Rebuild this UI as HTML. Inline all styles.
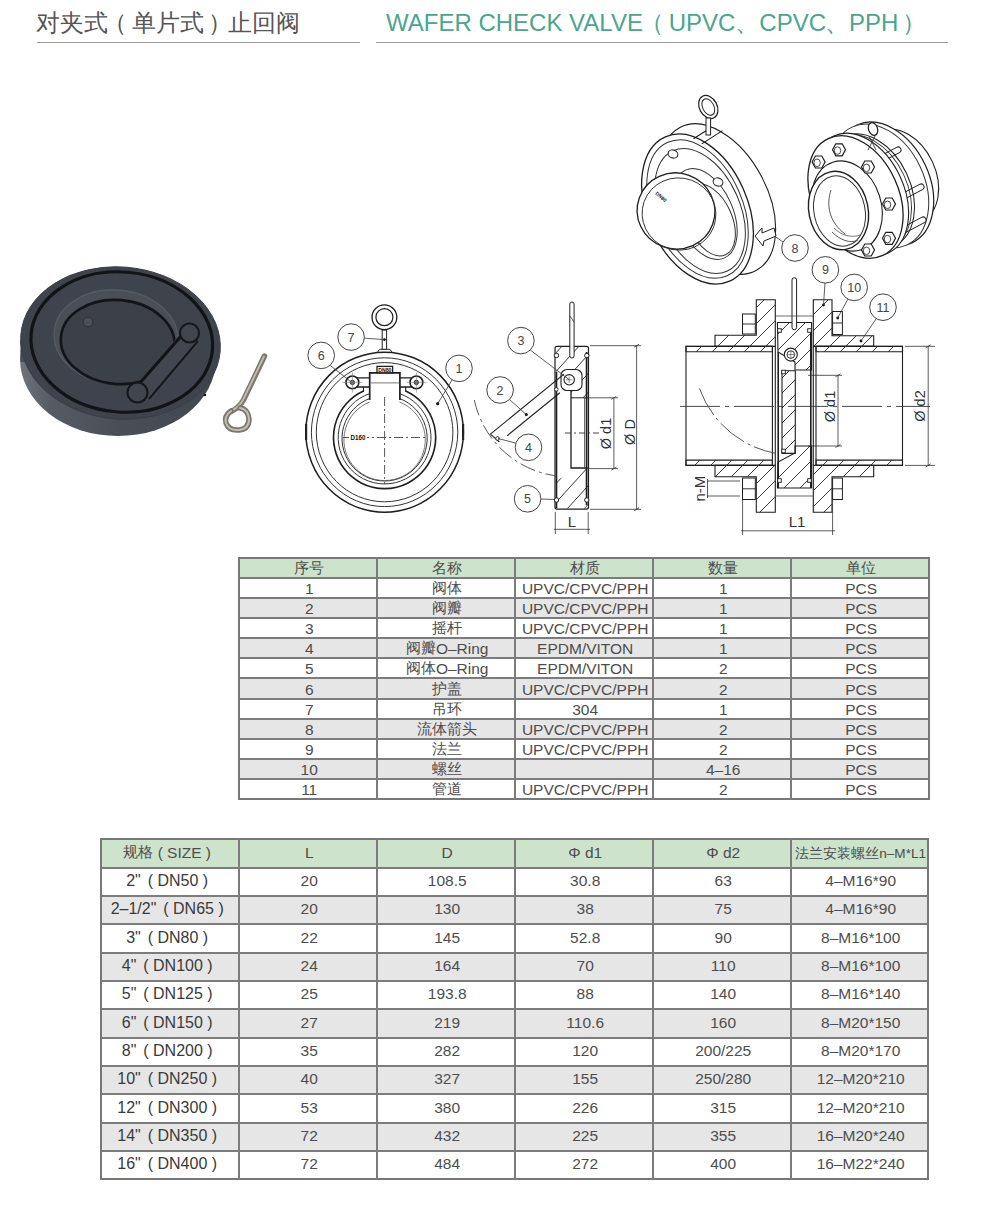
<!DOCTYPE html>
<html><head><meta charset="utf-8"><style>
*{margin:0;padding:0;box-sizing:border-box}
html,body{width:984px;height:1210px;background:#fff;overflow:hidden;position:relative;font-family:"Liberation Sans",sans-serif}
.a{position:absolute;white-space:nowrap}
.t1{color:#555;font-size:24px;line-height:24px}
.t2{color:#4aa68f;font-size:24px;line-height:24px}
.k{font-size:14.5px;position:relative;top:-0.6px}
.c{position:absolute;text-align:center;white-space:nowrap;color:#4d4d4d}
</style></head><body>
<svg class="a" style="left:0;top:0" width="984" height="1210" viewBox="0 0 984 1210"><ellipse cx="384.6" cy="432.2" rx="78.8" ry="80" fill="none" stroke="#1e1e1e" stroke-width="1.5"/><ellipse cx="384.6" cy="432.2" rx="73.2" ry="74.4" fill="none" stroke="#333" stroke-width="1"/><ellipse cx="384.6" cy="432.2" rx="68.3" ry="69.6" fill="none" stroke="#333" stroke-width="1"/><rect x="305" y="424" width="2.2" height="16" fill="#222"/><rect x="462" y="424" width="2.2" height="16" fill="#222"/><path d="M 363.5 391 A 51.1 51.1 0 1 0 405.7 391" fill="none" stroke="#1e1e1e" stroke-width="1.6"/><path d="M 369.7 393.6 A 46.4 46.4 0 1 0 399.5 393.6" fill="none" stroke="#333" stroke-width="1"/><path d="M 369.7 398.5 A 42.6 42.6 0 1 0 399.5 398.5" fill="none" stroke="#333" stroke-width="1"/><path d="M 369.7 402 A 40.7 40.7 0 1 0 399.5 402" fill="none" stroke="#555" stroke-width="0.8"/><path d="M 369.7 400 L 369.7 372.8 L 399.9 372.8 L 399.9 400" fill="none" stroke="#1e1e1e" stroke-width="1.7"/><rect x="377" y="366.4" width="15.6" height="6.4" fill="#fff" stroke="#1e1e1e" stroke-width="1.3"/><text x="384.8" y="371.8" font-size="6" text-anchor="middle" fill="#111" font-family="Liberation Sans" font-weight="bold" textLength="13" lengthAdjust="spacingAndGlyphs">DN80</text><line x1="370.5" y1="382.9" x2="399.0" y2="382.9" stroke="#777" stroke-width="1" /><path d="M 357 377.8 L 369.7 377.8 M 357 387 L 369.7 387" stroke="#1e1e1e" stroke-width="1.3" fill="none"/><path d="M 412 377.8 L 399.9 377.8 M 412 387 L 399.9 387" stroke="#1e1e1e" stroke-width="1.3" fill="none"/><path d="M 363.5 387 L 363.5 392 M 405.7 387 L 405.7 392" stroke="#1e1e1e" stroke-width="1.1" fill="none"/><circle cx="352.4" cy="382.4" r="6.4" fill="#fff" stroke="#1e1e1e" stroke-width="1.6"/><circle cx="352.4" cy="382.4" r="2.2" fill="#777" stroke="#1e1e1e" stroke-width="0.8"/><line x1="342.4" y1="382.4" x2="362.4" y2="382.4" stroke="#777" stroke-width="0.6" /><line x1="352.4" y1="372.5" x2="352.4" y2="392.5" stroke="#777" stroke-width="0.6" /><circle cx="416.4" cy="382.4" r="6.4" fill="#fff" stroke="#1e1e1e" stroke-width="1.6"/><circle cx="416.4" cy="382.4" r="2.2" fill="#777" stroke="#1e1e1e" stroke-width="0.8"/><line x1="406.4" y1="382.4" x2="426.4" y2="382.4" stroke="#777" stroke-width="0.6" /><line x1="416.4" y1="372.5" x2="416.4" y2="392.5" stroke="#777" stroke-width="0.6" /><path d="M 384.6 397 L 384.6 484" stroke="#444" stroke-width="0.9" stroke-dasharray="9 3 2 3" fill="none"/><path d="M 343 437.5 L 427 437.5" stroke="#444" stroke-width="0.9" stroke-dasharray="9 3 2 3" fill="none"/><rect x="349" y="434" width="18" height="7" fill="#fff"/><text x="358" y="439.8" font-size="6.5" text-anchor="middle" fill="#111" font-family="Liberation Sans" font-weight="bold" textLength="15" lengthAdjust="spacingAndGlyphs">D160</text><path d="M 377.5 352.3 L 379.5 349.3 L 390 349.3 L 392 352.3" fill="none" stroke="#333" stroke-width="1"/><rect x="382.2" y="330" width="4.4" height="19.3" fill="#fff" stroke="#1e1e1e" stroke-width="1"/><circle cx="384.4" cy="317.2" r="12.4" fill="none" stroke="#1e1e1e" stroke-width="1.3"/><circle cx="384.4" cy="317.2" r="8.5" fill="none" stroke="#1e1e1e" stroke-width="1.2"/><circle cx="384.4" cy="339.6" r="1.4" fill="#111"/><line x1="364.6" y1="338.2" x2="384.2" y2="339.6" stroke="#333" stroke-width="0.8" /><circle cx="351.1" cy="337.1" r="13.3" fill="#fff" stroke="#444" stroke-width="1"/><text x="351.1" y="341.6" font-size="12.5" text-anchor="middle" fill="#444" font-family="Liberation Sans">7</text><line x1="329.6" y1="365.0" x2="350.0" y2="381.0" stroke="#333" stroke-width="0.8" /><circle cx="321.2" cy="355.4" r="13.3" fill="#fff" stroke="#444" stroke-width="1"/><text x="321.2" y="359.9" font-size="12.5" text-anchor="middle" fill="#444" font-family="Liberation Sans">6</text><circle cx="437.7" cy="403.7" r="1.6" fill="#111"/><line x1="452.0" y1="380.0" x2="437.7" y2="403.7" stroke="#333" stroke-width="0.8" /><circle cx="459" cy="368.4" r="13.3" fill="#fff" stroke="#444" stroke-width="1"/><text x="459" y="372.9" font-size="12.5" text-anchor="middle" fill="#444" font-family="Liberation Sans">1</text><path d="M 474.3 400 A 97 97 0 0 0 572.6 476.7" fill="none" stroke="#444" stroke-width="0.9" stroke-dasharray="16 4 3 4"/><rect x="555" y="346.3" width="33.5" height="162.8" rx="2" fill="#fff" stroke="#1e1e1e" stroke-width="1.2"/><clipPath id="cUp"><path d="M 555.5 347 L 588 347 L 588 398 L 571 398 L 571 391 L 556 372 Z"/></clipPath><clipPath id="cLo"><path d="M 556 508.6 L 588 508.6 L 588 468 L 571 468 L 571 474 L 556 480 Z"/></clipPath><path clip-path="url(#cUp)" d="M 370 520 L 570 300 M 387 520 L 587 300 M 404 520 L 604 300 M 421 520 L 621 300 M 438 520 L 638 300 M 455 520 L 655 300 M 472 520 L 672 300 M 489 520 L 689 300 M 506 520 L 706 300 M 523 520 L 723 300 M 540 520 L 740 300 M 557 520 L 757 300 M 574 520 L 774 300 M 591 520 L 791 300 M 608 520 L 808 300 M 625 520 L 825 300 M 642 520 L 842 300 M 659 520 L 859 300 M 676 520 L 876 300 M 693 520 L 893 300 M 710 520 L 910 300 M 727 520 L 927 300 M 744 520 L 944 300 M 761 520 L 961 300 M 778 520 L 978 300 M 795 520 L 995 300 M 812 520 L 1012 300 M 829 520 L 1029 300 M 846 520 L 1046 300 M 863 520 L 1063 300" stroke="#222" stroke-width="0.9" fill="none"/><path clip-path="url(#cLo)" d="M 370 520 L 570 300 M 387 520 L 587 300 M 404 520 L 604 300 M 421 520 L 621 300 M 438 520 L 638 300 M 455 520 L 655 300 M 472 520 L 672 300 M 489 520 L 689 300 M 506 520 L 706 300 M 523 520 L 723 300 M 540 520 L 740 300 M 557 520 L 757 300 M 574 520 L 774 300 M 591 520 L 791 300 M 608 520 L 808 300 M 625 520 L 825 300 M 642 520 L 842 300 M 659 520 L 859 300 M 676 520 L 876 300 M 693 520 L 893 300 M 710 520 L 910 300 M 727 520 L 927 300 M 744 520 L 944 300 M 761 520 L 961 300 M 778 520 L 978 300 M 795 520 L 995 300 M 812 520 L 1012 300 M 829 520 L 1029 300 M 846 520 L 1046 300 M 863 520 L 1063 300" stroke="#222" stroke-width="0.9" fill="none"/><path d="M 571 391 L 571 468 L 587.5 468" fill="none" stroke="#1e1e1e" stroke-width="1.3"/><line x1="571.0" y1="397.8" x2="588.0" y2="397.8" stroke="#1e1e1e" stroke-width="1" /><line x1="556.5" y1="372.0" x2="556.5" y2="508.0" stroke="#1e1e1e" stroke-width="1.6" /><line x1="586.6" y1="352.0" x2="586.6" y2="505.0" stroke="#1e1e1e" stroke-width="1.8" /><line x1="584.5" y1="398.0" x2="584.5" y2="468.0" stroke="#444" stroke-width="0.8" /><circle cx="556.5" cy="355.5" r="2.2" fill="#fff" stroke="#1e1e1e" stroke-width="1"/><circle cx="586.8" cy="355.5" r="2.2" fill="#fff" stroke="#1e1e1e" stroke-width="1"/><circle cx="556.5" cy="500" r="2.2" fill="#fff" stroke="#1e1e1e" stroke-width="1"/><circle cx="586.8" cy="500" r="2.2" fill="#fff" stroke="#1e1e1e" stroke-width="1"/><rect x="569.8" y="302" width="4.3" height="56" rx="2.1" fill="#fff" stroke="#1e1e1e" stroke-width="1"/><line x1="570.0" y1="316.0" x2="574.0" y2="322.0" stroke="#333" stroke-width="0.8" /><rect x="561" y="369.5" width="21" height="21" rx="6" fill="#fff" stroke="#1e1e1e" stroke-width="1.1"/><path d="M 490.4 434.1 L 564.0 374.1" stroke="#1e1e1e" stroke-width="1.1" fill="none"/><path d="M 507.2 435.7 L 559.9 392.7" stroke="#1e1e1e" stroke-width="1.1" fill="none"/><path d="M 490.4 434.1 L 499.4 442.0" stroke="#1e1e1e" stroke-width="1.1" fill="none"/><circle cx="569.2" cy="379.8" r="5.2" fill="#fff" stroke="#1e1e1e" stroke-width="1.1"/><line x1="566.0" y1="379.8" x2="572.4" y2="379.8" stroke="#444" stroke-width="0.6" /><line x1="569.2" y1="376.6" x2="569.2" y2="383.0" stroke="#444" stroke-width="0.6" /><circle cx="497.5" cy="438.5" r="1.8" fill="#fff" stroke="#1e1e1e" stroke-width="0.9"/><circle cx="556.3" cy="389.4" r="1.8" fill="#fff" stroke="#1e1e1e" stroke-width="0.9"/><path d="M 565 433 L 599 433" stroke="#333" stroke-width="0.9" stroke-dasharray="6 3 2 3" fill="none"/><circle cx="526.3" cy="414.6" r="1.5" fill="#111"/><line x1="509.5" y1="399.5" x2="526.3" y2="414.6" stroke="#333" stroke-width="0.8" /><circle cx="500.1" cy="390" r="13.3" fill="#fff" stroke="#444" stroke-width="1"/><text x="500.1" y="394.5" font-size="12.5" text-anchor="middle" fill="#444" font-family="Liberation Sans">2</text><line x1="530.3" y1="350.0" x2="569.0" y2="379.5" stroke="#333" stroke-width="0.8" /><circle cx="520.9" cy="340.6" r="13.3" fill="#fff" stroke="#444" stroke-width="1"/><text x="520.9" y="345.1" font-size="12.5" text-anchor="middle" fill="#444" font-family="Liberation Sans">3</text><line x1="515.5" y1="443.0" x2="498.0" y2="438.5" stroke="#333" stroke-width="0.8" /><circle cx="528.5" cy="447.3" r="13.3" fill="#fff" stroke="#444" stroke-width="1"/><text x="528.5" y="451.8" font-size="12.5" text-anchor="middle" fill="#444" font-family="Liberation Sans">4</text><line x1="541.0" y1="499.0" x2="554.5" y2="499.5" stroke="#333" stroke-width="0.8" /><circle cx="527.6" cy="498.8" r="13.3" fill="#fff" stroke="#444" stroke-width="1"/><text x="527.6" y="503.3" font-size="12.5" text-anchor="middle" fill="#444" font-family="Liberation Sans">5</text><line x1="590.0" y1="345.7" x2="641.0" y2="345.7" stroke="#333" stroke-width="0.8" /><line x1="590.0" y1="509.3" x2="641.0" y2="509.3" stroke="#333" stroke-width="0.8" /><line x1="636.6" y1="345.7" x2="636.6" y2="509.3" stroke="#333" stroke-width="0.8" /><line x1="588.0" y1="397.8" x2="618.0" y2="397.8" stroke="#333" stroke-width="0.8" /><line x1="588.0" y1="468.6" x2="618.0" y2="468.6" stroke="#333" stroke-width="0.8" /><line x1="613.9" y1="397.8" x2="613.9" y2="468.6" stroke="#333" stroke-width="0.8" /><line x1="634.1" y1="347.2" x2="639.1" y2="344.2" stroke="#333" stroke-width="0.8" /><line x1="634.1" y1="510.8" x2="639.1" y2="507.8" stroke="#333" stroke-width="0.8" /><line x1="611.4" y1="399.3" x2="616.4" y2="396.3" stroke="#333" stroke-width="0.8" /><line x1="611.4" y1="470.1" x2="616.4" y2="467.1" stroke="#333" stroke-width="0.8" /><line x1="555.3" y1="512.0" x2="555.3" y2="534.0" stroke="#333" stroke-width="0.8" /><line x1="588.2" y1="512.0" x2="588.2" y2="534.0" stroke="#333" stroke-width="0.8" /><line x1="554.0" y1="529.3" x2="590.0" y2="529.3" stroke="#333" stroke-width="0.8" /><text x="572" y="527" font-size="15" text-anchor="middle" fill="#333" font-family="Liberation Sans">L</text><text transform="translate(610.5 433.5) rotate(-90)" font-size="14.5" text-anchor="middle" fill="#333" font-family="Liberation Sans">Ø d1</text><text transform="translate(635 432) rotate(-90)" font-size="14.5" text-anchor="middle" fill="#333" font-family="Liberation Sans">Ø D</text><rect x="686" y="346.4" width="86.39999999999998" height="119" fill="#fff" stroke="#1e1e1e" stroke-width="1.1"/><rect x="816" y="346.4" width="86.5" height="119" fill="#fff" stroke="#1e1e1e" stroke-width="1.1"/><clipPath id="pA1"><path d="M 686 346.4 L 772.4 346.4 L 772.4 351.7 L 686 351.7 Z"/></clipPath><path clip-path="url(#pA1)" d="M 120 560 L 420 260 M 136 560 L 436 260 M 152 560 L 452 260 M 168 560 L 468 260 M 184 560 L 484 260 M 200 560 L 500 260 M 216 560 L 516 260 M 232 560 L 532 260 M 248 560 L 548 260 M 264 560 L 564 260 M 280 560 L 580 260 M 296 560 L 596 260 M 312 560 L 612 260 M 328 560 L 628 260 M 344 560 L 644 260 M 360 560 L 660 260 M 376 560 L 676 260 M 392 560 L 692 260 M 408 560 L 708 260 M 424 560 L 724 260 M 440 560 L 740 260 M 456 560 L 756 260 M 472 560 L 772 260 M 488 560 L 788 260 M 504 560 L 804 260 M 520 560 L 820 260 M 536 560 L 836 260 M 552 560 L 852 260 M 568 560 L 868 260 M 584 560 L 884 260 M 600 560 L 900 260 M 616 560 L 916 260 M 632 560 L 932 260 M 648 560 L 948 260 M 664 560 L 964 260 M 680 560 L 980 260 M 696 560 L 996 260 M 712 560 L 1012 260 M 728 560 L 1028 260 M 744 560 L 1044 260 M 760 560 L 1060 260 M 776 560 L 1076 260 M 792 560 L 1092 260 M 808 560 L 1108 260 M 824 560 L 1124 260 M 840 560 L 1140 260 M 856 560 L 1156 260 M 872 560 L 1172 260 M 888 560 L 1188 260 M 904 560 L 1204 260 M 920 560 L 1220 260 M 936 560 L 1236 260 M 952 560 L 1252 260 M 968 560 L 1268 260 M 984 560 L 1284 260 M 1000 560 L 1300 260 M 1016 560 L 1316 260 M 1032 560 L 1332 260 M 1048 560 L 1348 260 M 1064 560 L 1364 260 M 1080 560 L 1380 260 M 1096 560 L 1396 260 M 1112 560 L 1412 260 M 1128 560 L 1428 260 M 1144 560 L 1444 260 M 1160 560 L 1460 260 M 1176 560 L 1476 260 M 1192 560 L 1492 260 M 1208 560 L 1508 260 M 1224 560 L 1524 260" stroke="#222" stroke-width="0.9" fill="none"/><path d="M 686 346.4 L 772.4 346.4 L 772.4 351.7 L 686 351.7 Z" fill="none" stroke="#1e1e1e" stroke-width="1.1"/><clipPath id="pA2"><path d="M 686 460.1 L 772.4 460.1 L 772.4 465.4 L 686 465.4 Z"/></clipPath><path clip-path="url(#pA2)" d="M 120 560 L 420 260 M 136 560 L 436 260 M 152 560 L 452 260 M 168 560 L 468 260 M 184 560 L 484 260 M 200 560 L 500 260 M 216 560 L 516 260 M 232 560 L 532 260 M 248 560 L 548 260 M 264 560 L 564 260 M 280 560 L 580 260 M 296 560 L 596 260 M 312 560 L 612 260 M 328 560 L 628 260 M 344 560 L 644 260 M 360 560 L 660 260 M 376 560 L 676 260 M 392 560 L 692 260 M 408 560 L 708 260 M 424 560 L 724 260 M 440 560 L 740 260 M 456 560 L 756 260 M 472 560 L 772 260 M 488 560 L 788 260 M 504 560 L 804 260 M 520 560 L 820 260 M 536 560 L 836 260 M 552 560 L 852 260 M 568 560 L 868 260 M 584 560 L 884 260 M 600 560 L 900 260 M 616 560 L 916 260 M 632 560 L 932 260 M 648 560 L 948 260 M 664 560 L 964 260 M 680 560 L 980 260 M 696 560 L 996 260 M 712 560 L 1012 260 M 728 560 L 1028 260 M 744 560 L 1044 260 M 760 560 L 1060 260 M 776 560 L 1076 260 M 792 560 L 1092 260 M 808 560 L 1108 260 M 824 560 L 1124 260 M 840 560 L 1140 260 M 856 560 L 1156 260 M 872 560 L 1172 260 M 888 560 L 1188 260 M 904 560 L 1204 260 M 920 560 L 1220 260 M 936 560 L 1236 260 M 952 560 L 1252 260 M 968 560 L 1268 260 M 984 560 L 1284 260 M 1000 560 L 1300 260 M 1016 560 L 1316 260 M 1032 560 L 1332 260 M 1048 560 L 1348 260 M 1064 560 L 1364 260 M 1080 560 L 1380 260 M 1096 560 L 1396 260 M 1112 560 L 1412 260 M 1128 560 L 1428 260 M 1144 560 L 1444 260 M 1160 560 L 1460 260 M 1176 560 L 1476 260 M 1192 560 L 1492 260 M 1208 560 L 1508 260 M 1224 560 L 1524 260" stroke="#222" stroke-width="0.9" fill="none"/><path d="M 686 460.1 L 772.4 460.1 L 772.4 465.4 L 686 465.4 Z" fill="none" stroke="#1e1e1e" stroke-width="1.1"/><clipPath id="pB1"><path d="M 816 346.4 L 902.5 346.4 L 902.5 351.7 L 816 351.7 Z"/></clipPath><path clip-path="url(#pB1)" d="M 120 560 L 420 260 M 136 560 L 436 260 M 152 560 L 452 260 M 168 560 L 468 260 M 184 560 L 484 260 M 200 560 L 500 260 M 216 560 L 516 260 M 232 560 L 532 260 M 248 560 L 548 260 M 264 560 L 564 260 M 280 560 L 580 260 M 296 560 L 596 260 M 312 560 L 612 260 M 328 560 L 628 260 M 344 560 L 644 260 M 360 560 L 660 260 M 376 560 L 676 260 M 392 560 L 692 260 M 408 560 L 708 260 M 424 560 L 724 260 M 440 560 L 740 260 M 456 560 L 756 260 M 472 560 L 772 260 M 488 560 L 788 260 M 504 560 L 804 260 M 520 560 L 820 260 M 536 560 L 836 260 M 552 560 L 852 260 M 568 560 L 868 260 M 584 560 L 884 260 M 600 560 L 900 260 M 616 560 L 916 260 M 632 560 L 932 260 M 648 560 L 948 260 M 664 560 L 964 260 M 680 560 L 980 260 M 696 560 L 996 260 M 712 560 L 1012 260 M 728 560 L 1028 260 M 744 560 L 1044 260 M 760 560 L 1060 260 M 776 560 L 1076 260 M 792 560 L 1092 260 M 808 560 L 1108 260 M 824 560 L 1124 260 M 840 560 L 1140 260 M 856 560 L 1156 260 M 872 560 L 1172 260 M 888 560 L 1188 260 M 904 560 L 1204 260 M 920 560 L 1220 260 M 936 560 L 1236 260 M 952 560 L 1252 260 M 968 560 L 1268 260 M 984 560 L 1284 260 M 1000 560 L 1300 260 M 1016 560 L 1316 260 M 1032 560 L 1332 260 M 1048 560 L 1348 260 M 1064 560 L 1364 260 M 1080 560 L 1380 260 M 1096 560 L 1396 260 M 1112 560 L 1412 260 M 1128 560 L 1428 260 M 1144 560 L 1444 260 M 1160 560 L 1460 260 M 1176 560 L 1476 260 M 1192 560 L 1492 260 M 1208 560 L 1508 260 M 1224 560 L 1524 260" stroke="#222" stroke-width="0.9" fill="none"/><path d="M 816 346.4 L 902.5 346.4 L 902.5 351.7 L 816 351.7 Z" fill="none" stroke="#1e1e1e" stroke-width="1.1"/><clipPath id="pB2"><path d="M 816 460.1 L 902.5 460.1 L 902.5 465.4 L 816 465.4 Z"/></clipPath><path clip-path="url(#pB2)" d="M 120 560 L 420 260 M 136 560 L 436 260 M 152 560 L 452 260 M 168 560 L 468 260 M 184 560 L 484 260 M 200 560 L 500 260 M 216 560 L 516 260 M 232 560 L 532 260 M 248 560 L 548 260 M 264 560 L 564 260 M 280 560 L 580 260 M 296 560 L 596 260 M 312 560 L 612 260 M 328 560 L 628 260 M 344 560 L 644 260 M 360 560 L 660 260 M 376 560 L 676 260 M 392 560 L 692 260 M 408 560 L 708 260 M 424 560 L 724 260 M 440 560 L 740 260 M 456 560 L 756 260 M 472 560 L 772 260 M 488 560 L 788 260 M 504 560 L 804 260 M 520 560 L 820 260 M 536 560 L 836 260 M 552 560 L 852 260 M 568 560 L 868 260 M 584 560 L 884 260 M 600 560 L 900 260 M 616 560 L 916 260 M 632 560 L 932 260 M 648 560 L 948 260 M 664 560 L 964 260 M 680 560 L 980 260 M 696 560 L 996 260 M 712 560 L 1012 260 M 728 560 L 1028 260 M 744 560 L 1044 260 M 760 560 L 1060 260 M 776 560 L 1076 260 M 792 560 L 1092 260 M 808 560 L 1108 260 M 824 560 L 1124 260 M 840 560 L 1140 260 M 856 560 L 1156 260 M 872 560 L 1172 260 M 888 560 L 1188 260 M 904 560 L 1204 260 M 920 560 L 1220 260 M 936 560 L 1236 260 M 952 560 L 1252 260 M 968 560 L 1268 260 M 984 560 L 1284 260 M 1000 560 L 1300 260 M 1016 560 L 1316 260 M 1032 560 L 1332 260 M 1048 560 L 1348 260 M 1064 560 L 1364 260 M 1080 560 L 1380 260 M 1096 560 L 1396 260 M 1112 560 L 1412 260 M 1128 560 L 1428 260 M 1144 560 L 1444 260 M 1160 560 L 1460 260 M 1176 560 L 1476 260 M 1192 560 L 1492 260 M 1208 560 L 1508 260 M 1224 560 L 1524 260" stroke="#222" stroke-width="0.9" fill="none"/><path d="M 816 460.1 L 902.5 460.1 L 902.5 465.4 L 816 465.4 Z" fill="none" stroke="#1e1e1e" stroke-width="1.1"/><clipPath id="fL1"><path d="M 756.3 299.8 L 775.3 299.8 L 775.3 346.4 L 715 346.4 L 715 335.3 L 756.3 335.3 Z"/></clipPath><path clip-path="url(#fL1)" d="M 120 560 L 420 260 M 136 560 L 436 260 M 152 560 L 452 260 M 168 560 L 468 260 M 184 560 L 484 260 M 200 560 L 500 260 M 216 560 L 516 260 M 232 560 L 532 260 M 248 560 L 548 260 M 264 560 L 564 260 M 280 560 L 580 260 M 296 560 L 596 260 M 312 560 L 612 260 M 328 560 L 628 260 M 344 560 L 644 260 M 360 560 L 660 260 M 376 560 L 676 260 M 392 560 L 692 260 M 408 560 L 708 260 M 424 560 L 724 260 M 440 560 L 740 260 M 456 560 L 756 260 M 472 560 L 772 260 M 488 560 L 788 260 M 504 560 L 804 260 M 520 560 L 820 260 M 536 560 L 836 260 M 552 560 L 852 260 M 568 560 L 868 260 M 584 560 L 884 260 M 600 560 L 900 260 M 616 560 L 916 260 M 632 560 L 932 260 M 648 560 L 948 260 M 664 560 L 964 260 M 680 560 L 980 260 M 696 560 L 996 260 M 712 560 L 1012 260 M 728 560 L 1028 260 M 744 560 L 1044 260 M 760 560 L 1060 260 M 776 560 L 1076 260 M 792 560 L 1092 260 M 808 560 L 1108 260 M 824 560 L 1124 260 M 840 560 L 1140 260 M 856 560 L 1156 260 M 872 560 L 1172 260 M 888 560 L 1188 260 M 904 560 L 1204 260 M 920 560 L 1220 260 M 936 560 L 1236 260 M 952 560 L 1252 260 M 968 560 L 1268 260 M 984 560 L 1284 260 M 1000 560 L 1300 260 M 1016 560 L 1316 260 M 1032 560 L 1332 260 M 1048 560 L 1348 260 M 1064 560 L 1364 260 M 1080 560 L 1380 260 M 1096 560 L 1396 260 M 1112 560 L 1412 260 M 1128 560 L 1428 260 M 1144 560 L 1444 260 M 1160 560 L 1460 260 M 1176 560 L 1476 260 M 1192 560 L 1492 260 M 1208 560 L 1508 260 M 1224 560 L 1524 260" stroke="#222" stroke-width="0.9" fill="none"/><path d="M 756.3 299.8 L 775.3 299.8 L 775.3 346.4 L 715 346.4 L 715 335.3 L 756.3 335.3 Z" fill="none" stroke="#1e1e1e" stroke-width="1.1"/><clipPath id="fL2"><path d="M 756.3 512.3 L 775.3 512.3 L 775.3 465.4 L 715 465.4 L 715 476.8 L 756.3 476.8 Z"/></clipPath><path clip-path="url(#fL2)" d="M 120 560 L 420 260 M 136 560 L 436 260 M 152 560 L 452 260 M 168 560 L 468 260 M 184 560 L 484 260 M 200 560 L 500 260 M 216 560 L 516 260 M 232 560 L 532 260 M 248 560 L 548 260 M 264 560 L 564 260 M 280 560 L 580 260 M 296 560 L 596 260 M 312 560 L 612 260 M 328 560 L 628 260 M 344 560 L 644 260 M 360 560 L 660 260 M 376 560 L 676 260 M 392 560 L 692 260 M 408 560 L 708 260 M 424 560 L 724 260 M 440 560 L 740 260 M 456 560 L 756 260 M 472 560 L 772 260 M 488 560 L 788 260 M 504 560 L 804 260 M 520 560 L 820 260 M 536 560 L 836 260 M 552 560 L 852 260 M 568 560 L 868 260 M 584 560 L 884 260 M 600 560 L 900 260 M 616 560 L 916 260 M 632 560 L 932 260 M 648 560 L 948 260 M 664 560 L 964 260 M 680 560 L 980 260 M 696 560 L 996 260 M 712 560 L 1012 260 M 728 560 L 1028 260 M 744 560 L 1044 260 M 760 560 L 1060 260 M 776 560 L 1076 260 M 792 560 L 1092 260 M 808 560 L 1108 260 M 824 560 L 1124 260 M 840 560 L 1140 260 M 856 560 L 1156 260 M 872 560 L 1172 260 M 888 560 L 1188 260 M 904 560 L 1204 260 M 920 560 L 1220 260 M 936 560 L 1236 260 M 952 560 L 1252 260 M 968 560 L 1268 260 M 984 560 L 1284 260 M 1000 560 L 1300 260 M 1016 560 L 1316 260 M 1032 560 L 1332 260 M 1048 560 L 1348 260 M 1064 560 L 1364 260 M 1080 560 L 1380 260 M 1096 560 L 1396 260 M 1112 560 L 1412 260 M 1128 560 L 1428 260 M 1144 560 L 1444 260 M 1160 560 L 1460 260 M 1176 560 L 1476 260 M 1192 560 L 1492 260 M 1208 560 L 1508 260 M 1224 560 L 1524 260" stroke="#222" stroke-width="0.9" fill="none"/><path d="M 756.3 512.3 L 775.3 512.3 L 775.3 465.4 L 715 465.4 L 715 476.8 L 756.3 476.8 Z" fill="none" stroke="#1e1e1e" stroke-width="1.1"/><clipPath id="fR1"><path d="M 813.3 299.8 L 832 299.8 L 832 335.7 L 873.7 335.7 L 873.7 346.4 L 813.3 346.4 Z"/></clipPath><path clip-path="url(#fR1)" d="M 120 560 L 420 260 M 136 560 L 436 260 M 152 560 L 452 260 M 168 560 L 468 260 M 184 560 L 484 260 M 200 560 L 500 260 M 216 560 L 516 260 M 232 560 L 532 260 M 248 560 L 548 260 M 264 560 L 564 260 M 280 560 L 580 260 M 296 560 L 596 260 M 312 560 L 612 260 M 328 560 L 628 260 M 344 560 L 644 260 M 360 560 L 660 260 M 376 560 L 676 260 M 392 560 L 692 260 M 408 560 L 708 260 M 424 560 L 724 260 M 440 560 L 740 260 M 456 560 L 756 260 M 472 560 L 772 260 M 488 560 L 788 260 M 504 560 L 804 260 M 520 560 L 820 260 M 536 560 L 836 260 M 552 560 L 852 260 M 568 560 L 868 260 M 584 560 L 884 260 M 600 560 L 900 260 M 616 560 L 916 260 M 632 560 L 932 260 M 648 560 L 948 260 M 664 560 L 964 260 M 680 560 L 980 260 M 696 560 L 996 260 M 712 560 L 1012 260 M 728 560 L 1028 260 M 744 560 L 1044 260 M 760 560 L 1060 260 M 776 560 L 1076 260 M 792 560 L 1092 260 M 808 560 L 1108 260 M 824 560 L 1124 260 M 840 560 L 1140 260 M 856 560 L 1156 260 M 872 560 L 1172 260 M 888 560 L 1188 260 M 904 560 L 1204 260 M 920 560 L 1220 260 M 936 560 L 1236 260 M 952 560 L 1252 260 M 968 560 L 1268 260 M 984 560 L 1284 260 M 1000 560 L 1300 260 M 1016 560 L 1316 260 M 1032 560 L 1332 260 M 1048 560 L 1348 260 M 1064 560 L 1364 260 M 1080 560 L 1380 260 M 1096 560 L 1396 260 M 1112 560 L 1412 260 M 1128 560 L 1428 260 M 1144 560 L 1444 260 M 1160 560 L 1460 260 M 1176 560 L 1476 260 M 1192 560 L 1492 260 M 1208 560 L 1508 260 M 1224 560 L 1524 260" stroke="#222" stroke-width="0.9" fill="none"/><path d="M 813.3 299.8 L 832 299.8 L 832 335.7 L 873.7 335.7 L 873.7 346.4 L 813.3 346.4 Z" fill="none" stroke="#1e1e1e" stroke-width="1.1"/><clipPath id="fR2"><path d="M 813.3 512.3 L 832 512.3 L 832 476.8 L 873.7 476.8 L 873.7 465.4 L 813.3 465.4 Z"/></clipPath><path clip-path="url(#fR2)" d="M 120 560 L 420 260 M 136 560 L 436 260 M 152 560 L 452 260 M 168 560 L 468 260 M 184 560 L 484 260 M 200 560 L 500 260 M 216 560 L 516 260 M 232 560 L 532 260 M 248 560 L 548 260 M 264 560 L 564 260 M 280 560 L 580 260 M 296 560 L 596 260 M 312 560 L 612 260 M 328 560 L 628 260 M 344 560 L 644 260 M 360 560 L 660 260 M 376 560 L 676 260 M 392 560 L 692 260 M 408 560 L 708 260 M 424 560 L 724 260 M 440 560 L 740 260 M 456 560 L 756 260 M 472 560 L 772 260 M 488 560 L 788 260 M 504 560 L 804 260 M 520 560 L 820 260 M 536 560 L 836 260 M 552 560 L 852 260 M 568 560 L 868 260 M 584 560 L 884 260 M 600 560 L 900 260 M 616 560 L 916 260 M 632 560 L 932 260 M 648 560 L 948 260 M 664 560 L 964 260 M 680 560 L 980 260 M 696 560 L 996 260 M 712 560 L 1012 260 M 728 560 L 1028 260 M 744 560 L 1044 260 M 760 560 L 1060 260 M 776 560 L 1076 260 M 792 560 L 1092 260 M 808 560 L 1108 260 M 824 560 L 1124 260 M 840 560 L 1140 260 M 856 560 L 1156 260 M 872 560 L 1172 260 M 888 560 L 1188 260 M 904 560 L 1204 260 M 920 560 L 1220 260 M 936 560 L 1236 260 M 952 560 L 1252 260 M 968 560 L 1268 260 M 984 560 L 1284 260 M 1000 560 L 1300 260 M 1016 560 L 1316 260 M 1032 560 L 1332 260 M 1048 560 L 1348 260 M 1064 560 L 1364 260 M 1080 560 L 1380 260 M 1096 560 L 1396 260 M 1112 560 L 1412 260 M 1128 560 L 1428 260 M 1144 560 L 1444 260 M 1160 560 L 1460 260 M 1176 560 L 1476 260 M 1192 560 L 1492 260 M 1208 560 L 1508 260 M 1224 560 L 1524 260" stroke="#222" stroke-width="0.9" fill="none"/><path d="M 813.3 512.3 L 832 512.3 L 832 476.8 L 873.7 476.8 L 873.7 465.4 L 813.3 465.4 Z" fill="none" stroke="#1e1e1e" stroke-width="1.1"/><line x1="775.3" y1="346.4" x2="775.3" y2="465.4" stroke="#1e1e1e" stroke-width="1.1" /><line x1="813.3" y1="346.4" x2="813.3" y2="465.4" stroke="#1e1e1e" stroke-width="1.1" /><clipPath id="vB1"><path d="M 777.4 322.5 L 811.6 322.5 L 811.6 370 L 795 370 L 795 362 L 778 352 Z"/></clipPath><path clip-path="url(#vB1)" d="M 120 560 L 420 260 M 136 560 L 436 260 M 152 560 L 452 260 M 168 560 L 468 260 M 184 560 L 484 260 M 200 560 L 500 260 M 216 560 L 516 260 M 232 560 L 532 260 M 248 560 L 548 260 M 264 560 L 564 260 M 280 560 L 580 260 M 296 560 L 596 260 M 312 560 L 612 260 M 328 560 L 628 260 M 344 560 L 644 260 M 360 560 L 660 260 M 376 560 L 676 260 M 392 560 L 692 260 M 408 560 L 708 260 M 424 560 L 724 260 M 440 560 L 740 260 M 456 560 L 756 260 M 472 560 L 772 260 M 488 560 L 788 260 M 504 560 L 804 260 M 520 560 L 820 260 M 536 560 L 836 260 M 552 560 L 852 260 M 568 560 L 868 260 M 584 560 L 884 260 M 600 560 L 900 260 M 616 560 L 916 260 M 632 560 L 932 260 M 648 560 L 948 260 M 664 560 L 964 260 M 680 560 L 980 260 M 696 560 L 996 260 M 712 560 L 1012 260 M 728 560 L 1028 260 M 744 560 L 1044 260 M 760 560 L 1060 260 M 776 560 L 1076 260 M 792 560 L 1092 260 M 808 560 L 1108 260 M 824 560 L 1124 260 M 840 560 L 1140 260 M 856 560 L 1156 260 M 872 560 L 1172 260 M 888 560 L 1188 260 M 904 560 L 1204 260 M 920 560 L 1220 260 M 936 560 L 1236 260 M 952 560 L 1252 260 M 968 560 L 1268 260 M 984 560 L 1284 260 M 1000 560 L 1300 260 M 1016 560 L 1316 260 M 1032 560 L 1332 260 M 1048 560 L 1348 260 M 1064 560 L 1364 260 M 1080 560 L 1380 260 M 1096 560 L 1396 260 M 1112 560 L 1412 260 M 1128 560 L 1428 260 M 1144 560 L 1444 260 M 1160 560 L 1460 260 M 1176 560 L 1476 260 M 1192 560 L 1492 260 M 1208 560 L 1508 260 M 1224 560 L 1524 260" stroke="#222" stroke-width="0.9" fill="none"/><path d="M 777.4 322.5 L 811.6 322.5 L 811.6 370 L 795 370 L 795 362 L 778 352 Z" fill="none" stroke="#1e1e1e" stroke-width="1.1"/><clipPath id="vB2"><path d="M 777.4 488 L 811.6 488 L 811.6 446 L 795 446 L 795 453 L 778 462 Z"/></clipPath><path clip-path="url(#vB2)" d="M 120 560 L 420 260 M 136 560 L 436 260 M 152 560 L 452 260 M 168 560 L 468 260 M 184 560 L 484 260 M 200 560 L 500 260 M 216 560 L 516 260 M 232 560 L 532 260 M 248 560 L 548 260 M 264 560 L 564 260 M 280 560 L 580 260 M 296 560 L 596 260 M 312 560 L 612 260 M 328 560 L 628 260 M 344 560 L 644 260 M 360 560 L 660 260 M 376 560 L 676 260 M 392 560 L 692 260 M 408 560 L 708 260 M 424 560 L 724 260 M 440 560 L 740 260 M 456 560 L 756 260 M 472 560 L 772 260 M 488 560 L 788 260 M 504 560 L 804 260 M 520 560 L 820 260 M 536 560 L 836 260 M 552 560 L 852 260 M 568 560 L 868 260 M 584 560 L 884 260 M 600 560 L 900 260 M 616 560 L 916 260 M 632 560 L 932 260 M 648 560 L 948 260 M 664 560 L 964 260 M 680 560 L 980 260 M 696 560 L 996 260 M 712 560 L 1012 260 M 728 560 L 1028 260 M 744 560 L 1044 260 M 760 560 L 1060 260 M 776 560 L 1076 260 M 792 560 L 1092 260 M 808 560 L 1108 260 M 824 560 L 1124 260 M 840 560 L 1140 260 M 856 560 L 1156 260 M 872 560 L 1172 260 M 888 560 L 1188 260 M 904 560 L 1204 260 M 920 560 L 1220 260 M 936 560 L 1236 260 M 952 560 L 1252 260 M 968 560 L 1268 260 M 984 560 L 1284 260 M 1000 560 L 1300 260 M 1016 560 L 1316 260 M 1032 560 L 1332 260 M 1048 560 L 1348 260 M 1064 560 L 1364 260 M 1080 560 L 1380 260 M 1096 560 L 1396 260 M 1112 560 L 1412 260 M 1128 560 L 1428 260 M 1144 560 L 1444 260 M 1160 560 L 1460 260 M 1176 560 L 1476 260 M 1192 560 L 1492 260 M 1208 560 L 1508 260 M 1224 560 L 1524 260" stroke="#222" stroke-width="0.9" fill="none"/><path d="M 777.4 488 L 811.6 488 L 811.6 446 L 795 446 L 795 453 L 778 462 Z" fill="none" stroke="#1e1e1e" stroke-width="1.1"/><line x1="778.2" y1="352.0" x2="778.2" y2="488.0" stroke="#1e1e1e" stroke-width="1.6" /><line x1="810.8" y1="330.0" x2="810.8" y2="488.0" stroke="#1e1e1e" stroke-width="1.6" /><clipPath id="vF"><path d="M 782 370.8 L 795.3 370.8 L 795.3 453.4 L 782 453.4 Z"/></clipPath><path clip-path="url(#vF)" d="M 150 560 L 450 260 M 165 560 L 465 260 M 180 560 L 480 260 M 195 560 L 495 260 M 210 560 L 510 260 M 225 560 L 525 260 M 240 560 L 540 260 M 255 560 L 555 260 M 270 560 L 570 260 M 285 560 L 585 260 M 300 560 L 600 260 M 315 560 L 615 260 M 330 560 L 630 260 M 345 560 L 645 260 M 360 560 L 660 260 M 375 560 L 675 260 M 390 560 L 690 260 M 405 560 L 705 260 M 420 560 L 720 260 M 435 560 L 735 260 M 450 560 L 750 260 M 465 560 L 765 260 M 480 560 L 780 260 M 495 560 L 795 260 M 510 560 L 810 260 M 525 560 L 825 260 M 540 560 L 840 260 M 555 560 L 855 260 M 570 560 L 870 260 M 585 560 L 885 260 M 600 560 L 900 260 M 615 560 L 915 260 M 630 560 L 930 260 M 645 560 L 945 260 M 660 560 L 960 260 M 675 560 L 975 260 M 690 560 L 990 260 M 705 560 L 1005 260 M 720 560 L 1020 260 M 735 560 L 1035 260 M 750 560 L 1050 260 M 765 560 L 1065 260 M 780 560 L 1080 260 M 795 560 L 1095 260 M 810 560 L 1110 260 M 825 560 L 1125 260 M 840 560 L 1140 260 M 855 560 L 1155 260 M 870 560 L 1170 260 M 885 560 L 1185 260 M 900 560 L 1200 260 M 915 560 L 1215 260 M 930 560 L 1230 260 M 945 560 L 1245 260 M 960 560 L 1260 260 M 975 560 L 1275 260 M 990 560 L 1290 260 M 1005 560 L 1305 260 M 1020 560 L 1320 260 M 1035 560 L 1335 260 M 1050 560 L 1350 260 M 1065 560 L 1365 260 M 1080 560 L 1380 260 M 1095 560 L 1395 260 M 1110 560 L 1410 260 M 1125 560 L 1425 260 M 1140 560 L 1440 260 M 1155 560 L 1455 260 M 1170 560 L 1470 260 M 1185 560 L 1485 260" stroke="#222" stroke-width="0.9" fill="none"/><path d="M 782 370.8 L 795.3 370.8 L 795.3 453.4 L 782 453.4 Z" fill="none" stroke="#1e1e1e" stroke-width="1.1"/><circle cx="790.8" cy="354.6" r="6.5" fill="#fff" stroke="#1e1e1e" stroke-width="1.1"/><circle cx="790.8" cy="354.6" r="3.8" fill="#fff" stroke="#1e1e1e" stroke-width="0.9"/><line x1="787.0" y1="354.6" x2="794.6" y2="354.6" stroke="#444" stroke-width="0.6" /><line x1="790.8" y1="350.8" x2="790.8" y2="358.4" stroke="#444" stroke-width="0.6" /><rect x="777.7" y="328.7" width="3.6" height="3.6" fill="#fff" stroke="#1e1e1e" stroke-width="0.9"/><rect x="807.7" y="328.7" width="3.6" height="3.6" fill="#fff" stroke="#1e1e1e" stroke-width="0.9"/><rect x="777.7" y="478.7" width="3.6" height="3.6" fill="#fff" stroke="#1e1e1e" stroke-width="0.9"/><rect x="807.7" y="478.7" width="3.6" height="3.6" fill="#fff" stroke="#1e1e1e" stroke-width="0.9"/><rect x="781.7" y="370.2" width="3.6" height="3.6" fill="#fff" stroke="#1e1e1e" stroke-width="0.9"/><rect x="781.7" y="449.2" width="3.6" height="3.6" fill="#fff" stroke="#1e1e1e" stroke-width="0.9"/><rect x="792" y="277.7" width="4.6" height="52" rx="2.3" fill="#fff" stroke="#1e1e1e" stroke-width="1"/><rect x="742.5" y="314" width="12.799999999999955" height="20" fill="#fff" stroke="#1e1e1e" stroke-width="1"/><line x1="742.5" y1="324.0" x2="755.3" y2="324.0" stroke="#1e1e1e" stroke-width="0.9" /><rect x="742.5" y="478" width="12.799999999999955" height="21.5" fill="#fff" stroke="#1e1e1e" stroke-width="1"/><line x1="742.5" y1="488.8" x2="755.3" y2="488.8" stroke="#1e1e1e" stroke-width="0.9" /><rect x="832.6" y="311.5" width="9.799999999999955" height="23.0" fill="#fff" stroke="#1e1e1e" stroke-width="1"/><line x1="832.6" y1="323.0" x2="842.4" y2="323.0" stroke="#1e1e1e" stroke-width="0.9" /><rect x="832.6" y="478" width="9.799999999999955" height="21.5" fill="#fff" stroke="#1e1e1e" stroke-width="1"/><line x1="832.6" y1="488.8" x2="842.4" y2="488.8" stroke="#1e1e1e" stroke-width="0.9" /><line x1="775.3" y1="316.0" x2="813.3" y2="316.0" stroke="#444" stroke-width="0.8" /><line x1="775.3" y1="496.0" x2="813.3" y2="496.0" stroke="#444" stroke-width="0.8" /><path d="M 680 406.4 L 930 406.4" stroke="#333" stroke-width="0.9" stroke-dasharray="40 5 4 5" fill="none"/><path d="M 699.5 388.5 A 100 100 0 0 0 776 453.4" fill="none" stroke="#444" stroke-width="0.9" stroke-dasharray="30 4 3 4"/><line x1="905.0" y1="346.3" x2="935.0" y2="346.3" stroke="#333" stroke-width="0.8" /><line x1="905.0" y1="465.4" x2="935.0" y2="465.4" stroke="#333" stroke-width="0.8" /><line x1="928.2" y1="346.3" x2="928.2" y2="465.4" stroke="#333" stroke-width="0.8" /><line x1="808.0" y1="375.3" x2="842.0" y2="375.3" stroke="#333" stroke-width="0.8" /><line x1="808.0" y1="446.0" x2="842.0" y2="446.0" stroke="#333" stroke-width="0.8" /><line x1="838.0" y1="375.3" x2="838.0" y2="446.0" stroke="#333" stroke-width="0.8" /><line x1="925.7" y1="347.8" x2="930.7" y2="344.8" stroke="#333" stroke-width="0.8" /><line x1="925.7" y1="466.9" x2="930.7" y2="463.9" stroke="#333" stroke-width="0.8" /><line x1="835.5" y1="376.8" x2="840.5" y2="373.8" stroke="#333" stroke-width="0.8" /><line x1="835.5" y1="447.5" x2="840.5" y2="444.5" stroke="#333" stroke-width="0.8" /><text transform="translate(835 406.5) rotate(-90)" font-size="14.5" text-anchor="middle" fill="#333" font-family="Liberation Sans">Ø d1</text><text transform="translate(925 406) rotate(-90)" font-size="14.5" text-anchor="middle" fill="#333" font-family="Liberation Sans">Ø d2</text><line x1="707.0" y1="481.0" x2="740.0" y2="481.0" stroke="#333" stroke-width="0.8" /><line x1="707.0" y1="496.0" x2="740.0" y2="496.0" stroke="#333" stroke-width="0.8" /><line x1="707.5" y1="479.0" x2="707.5" y2="498.0" stroke="#333" stroke-width="0.8" /><text transform="translate(704.6 488.7) rotate(-90)" font-size="15" text-anchor="middle" fill="#333" font-family="Liberation Sans">n-M</text><line x1="742.6" y1="500.0" x2="742.6" y2="535.0" stroke="#333" stroke-width="0.8" /><line x1="832.6" y1="500.0" x2="832.6" y2="535.0" stroke="#333" stroke-width="0.8" /><line x1="741.0" y1="530.8" x2="835.0" y2="530.8" stroke="#333" stroke-width="0.8" /><text x="797" y="527" font-size="15" text-anchor="middle" fill="#333" font-family="Liberation Sans">L1</text><circle cx="823.5" cy="305" r="1.4" fill="#111"/><line x1="825.0" y1="283.0" x2="823.5" y2="305.0" stroke="#333" stroke-width="0.8" /><circle cx="825.4" cy="269.8" r="13.3" fill="#fff" stroke="#444" stroke-width="1"/><text x="825.4" y="274.3" font-size="12.5" text-anchor="middle" fill="#444" font-family="Liberation Sans">9</text><circle cx="837.7" cy="318" r="1.4" fill="#111"/><line x1="848.0" y1="299.0" x2="837.7" y2="318.0" stroke="#333" stroke-width="0.8" /><circle cx="854.2" cy="287.4" r="13.3" fill="#fff" stroke="#444" stroke-width="1"/><text x="854.2" y="291.9" font-size="12.5" text-anchor="middle" fill="#444" font-family="Liberation Sans">10</text><circle cx="861" cy="341" r="1.4" fill="#111"/><line x1="876.0" y1="319.0" x2="861.0" y2="341.0" stroke="#333" stroke-width="0.8" /><circle cx="883" cy="307.2" r="13.3" fill="#fff" stroke="#444" stroke-width="1"/><text x="883" y="311.7" font-size="12.5" text-anchor="middle" fill="#444" font-family="Liberation Sans">11</text><ellipse cx="718" cy="199" rx="81" ry="49" transform="rotate(62 718 199)" fill="#fff" stroke="#1e1e1e" stroke-width="1.1"/><ellipse cx="697.5" cy="209" rx="79" ry="50" transform="rotate(66 697.5 209)" fill="#fff" stroke="#1e1e1e" stroke-width="1.3"/><ellipse cx="697.5" cy="209" rx="73" ry="45" transform="rotate(66 697.5 209)" fill="none" stroke="#333" stroke-width="1.0"/><ellipse cx="700" cy="211" rx="66" ry="40" transform="rotate(66 700 211)" fill="none" stroke="#333" stroke-width="1.0"/><ellipse cx="705" cy="214" rx="48" ry="28" transform="rotate(66 705 214)" fill="none" stroke="#333" stroke-width="1.0"/><ellipse cx="710" cy="220" rx="38" ry="22" transform="rotate(66 710 220)" fill="none" stroke="#333" stroke-width="1.0"/><ellipse cx="676" cy="211" rx="39" ry="38" transform="rotate(20 676 211)" fill="#fff" stroke="#1e1e1e" stroke-width="1.3"/><ellipse cx="679" cy="214" rx="37" ry="36" transform="rotate(20 679 214)" fill="none" stroke="#333" stroke-width="0.9"/><ellipse cx="708.3" cy="107" rx="8.8" ry="12.2" transform="rotate(-28 708.3 107)" fill="none" stroke="#1e1e1e" stroke-width="1.2"/><ellipse cx="708.3" cy="107" rx="5.6" ry="8.8" transform="rotate(-28 708.3 107)" fill="none" stroke="#1e1e1e" stroke-width="1.0"/><rect x="706" y="118" width="4.6" height="17" fill="#fff" stroke="#1e1e1e" stroke-width="1"/><path d="M 693.5 138.8 L 706 130.8 M 701.7 143.9 L 722.5 130.6" stroke="#1e1e1e" stroke-width="1.1" fill="none"/><ellipse cx="673" cy="154" rx="5" ry="4" transform="rotate(20 673 154)" fill="#fff" stroke="#1e1e1e" stroke-width="1.0"/><ellipse cx="718" cy="182" rx="5" ry="4" transform="rotate(20 718 182)" fill="#fff" stroke="#1e1e1e" stroke-width="1.0"/><text transform="translate(655 194) rotate(40)" font-size="5" fill="#111" font-family="Liberation Sans" font-weight="bold">DN80</text><path d="M 755 236 L 762 228 L 762 233 L 774 228 L 776 236 L 764 241 L 763 246 Z" fill="#fff" stroke="#1e1e1e" stroke-width="1"/><line x1="776.0" y1="237.0" x2="783.0" y2="242.0" stroke="#333" stroke-width="0.8" /><circle cx="795" cy="248" r="13.3" fill="#fff" stroke="#444" stroke-width="1"/><text x="795" y="252.5" font-size="12.5" text-anchor="middle" fill="#444" font-family="Liberation Sans">8</text><ellipse cx="901.5" cy="176" rx="34" ry="49" transform="rotate(-25 901.5 176)" fill="#fff" stroke="#1e1e1e" stroke-width="1.1"/><ellipse cx="884.5" cy="184" rx="45" ry="65" transform="rotate(-25 884.5 184)" fill="#fff" stroke="#1e1e1e" stroke-width="1.2"/><ellipse cx="879.5" cy="186" rx="45" ry="65" transform="rotate(-25 879.5 186)" fill="#fff" stroke="#333" stroke-width="1.0"/><path d="M 881 159 L 898 150" stroke="#1e1e1e" stroke-width="7" stroke-linecap="round"/><path d="M 881 159 L 898 150" stroke="#fff" stroke-width="5" stroke-linecap="round"/><path d="M 904 196 L 921 187" stroke="#1e1e1e" stroke-width="7" stroke-linecap="round"/><path d="M 904 196 L 921 187" stroke="#fff" stroke-width="5" stroke-linecap="round"/><path d="M 906 229 L 923 220" stroke="#1e1e1e" stroke-width="7" stroke-linecap="round"/><path d="M 906 229 L 923 220" stroke="#fff" stroke-width="5" stroke-linecap="round"/><ellipse cx="869.5" cy="191" rx="41" ry="60" transform="rotate(-25 869.5 191)" fill="none" stroke="#1e1e1e" stroke-width="1.0"/><ellipse cx="866.5" cy="192" rx="41" ry="60" transform="rotate(-25 866.5 192)" fill="none" stroke="#333" stroke-width="0.9"/><ellipse cx="861.0" cy="194.5" rx="43" ry="64.5" transform="rotate(-25 861.0 194.5)" fill="#fff" stroke="#1e1e1e" stroke-width="1.1"/><ellipse cx="855.5" cy="197" rx="43" ry="64.5" transform="rotate(-25 855.5 197)" fill="#fff" stroke="#1e1e1e" stroke-width="1.3"/><ellipse cx="847" cy="206" rx="34" ry="46" transform="rotate(-18 847 206)" fill="#fff" stroke="#1e1e1e" stroke-width="1.1"/><ellipse cx="838.5" cy="210.5" rx="29.6" ry="39.5" transform="rotate(-12 838.5 210.5)" fill="#fff" stroke="#1e1e1e" stroke-width="1.4"/><ellipse cx="839.5" cy="211" rx="25.5" ry="35.5" transform="rotate(-12 839.5 211)" fill="#fff" stroke="#333" stroke-width="1.0"/><path d="M 831 190 C 826 205 829 222 845 234" fill="none" stroke="#444" stroke-width="0.9"/><path d="M 832 232 C 840 240 850 244 858 240" fill="none" stroke="#444" stroke-width="0.9"/><path d="M 834 228 C 842 236 852 238 860 235" fill="none" stroke="#555" stroke-width="0.8"/><polygon points="812.1,162 815.4,156 821.8000000000001,156 825.1,162 821.8000000000001,168 815.4,168" fill="#fff" stroke="#1e1e1e" stroke-width="1.2"/><ellipse cx="817.1" cy="162.8" rx="3.2" ry="3.8" fill="none" stroke="#333" stroke-width="0.9"/><polygon points="832.5,149.8 835.8,143.8 842.2,143.8 845.5,149.8 842.2,155.8 835.8,155.8" fill="#fff" stroke="#1e1e1e" stroke-width="1.2"/><ellipse cx="837.5" cy="150.60000000000002" rx="3.2" ry="3.8" fill="none" stroke="#333" stroke-width="0.9"/><polygon points="861.5,167 864.8,161 871.2,161 874.5,167 871.2,173 864.8,173" fill="#fff" stroke="#1e1e1e" stroke-width="1.2"/><ellipse cx="866.5" cy="167.8" rx="3.2" ry="3.8" fill="none" stroke="#333" stroke-width="0.9"/><polygon points="882.5,204 885.8,198 892.2,198 895.5,204 892.2,210 885.8,210" fill="#fff" stroke="#1e1e1e" stroke-width="1.2"/><ellipse cx="887.5" cy="204.8" rx="3.2" ry="3.8" fill="none" stroke="#333" stroke-width="0.9"/><polygon points="882.5,238.3 885.8,232.3 892.2,232.3 895.5,238.3 892.2,244.3 885.8,244.3" fill="#fff" stroke="#1e1e1e" stroke-width="1.2"/><ellipse cx="887.5" cy="239.10000000000002" rx="3.2" ry="3.8" fill="none" stroke="#333" stroke-width="0.9"/><polygon points="861.5,250 864.8,244 871.2,244 874.5,250 871.2,256 864.8,256" fill="#fff" stroke="#1e1e1e" stroke-width="1.2"/><ellipse cx="866.5" cy="250.8" rx="3.2" ry="3.8" fill="none" stroke="#333" stroke-width="0.9"/><ellipse cx="873" cy="129" rx="4.5" ry="6.5" transform="rotate(-20 873 129)" fill="#fff" stroke="#1e1e1e" stroke-width="1.2"/><path d="M 869 136 L 876 150 M 875 136 L 868 150" stroke="#333" stroke-width="0.9"/><defs><linearGradient id="gBand" x1="0" y1="0" x2="1" y2="0"><stop offset="0" stop-color="#6f737a"/><stop offset="0.15" stop-color="#575b63"/><stop offset="0.5" stop-color="#4a4e56"/><stop offset="1" stop-color="#42464e"/></linearGradient></defs><ellipse cx="118" cy="359" rx="98" ry="77" fill="url(#gBand)"/><path d="M 20.5 340 L 20.5 362 L 216 366 L 220.5 350 Z" fill="#4a4e56"/><ellipse cx="120.5" cy="343" rx="100" ry="76" transform="rotate(5 120.5 343)" fill="#3f434b" stroke="#3a3e45" stroke-width="1"/><ellipse cx="121.8" cy="342" rx="91" ry="70" transform="rotate(5 121.8 342)" fill="none" stroke="#121316" stroke-width="3.2"/><ellipse cx="116" cy="337" rx="62" ry="47" transform="rotate(5 116 337)" fill="#4a4e56" stroke="#555a62" stroke-width="1.5"/><ellipse cx="117.7" cy="342" rx="57" ry="42" transform="rotate(5 117.7 342)" fill="#3c4047" stroke="#131417" stroke-width="2.6"/><path d="M 126 400 L 180 334 L 202 340 L 150 402 Z" fill="#42464e"/><path d="M 139 384 L 182 335" stroke="#131417" stroke-width="3"/><path d="M 149 399 L 198 341" stroke="#17181b" stroke-width="2"/><circle cx="189.5" cy="333" r="9.5" fill="#41454c" stroke="#15171a" stroke-width="2"/><circle cx="137.5" cy="392.5" r="10" fill="#41454c" stroke="#15171a" stroke-width="2"/><circle cx="88" cy="322" r="5" fill="#4a4e55" stroke="#2c2f34" stroke-width="1"/><circle cx="205" cy="395" r="1.2" fill="#111"/><path d="M 264.5 356 L 243.5 400 Q 239 408 230 412" fill="none" stroke="#7b7770" stroke-width="5.5" stroke-linecap="round"/><path d="M 264 356.5 L 243 400 Q 239 407 231 411" fill="none" stroke="#c2beb7" stroke-width="1.8" stroke-linecap="round"/><path d="M 231 411 Q 224 416 226 423 Q 229 431 239 430 Q 249 429 249 419 Q 248 409 240 408" fill="none" stroke="#7b7770" stroke-width="5.5" stroke-linecap="round"/><path d="M 231 411 Q 224 416 226 423 Q 229 431 239 430 Q 249 429 249 419 Q 248 409 240 408" fill="none" stroke="#c2beb7" stroke-width="2" stroke-linecap="round"/></svg><div class="a t1" style="left:36px;top:11px">对夹式<span style="margin-left:-5px">（</span><span style="margin-left:5px">单</span>片式<span style="margin-left:4px">）</span><span style="margin-left:-4px">止</span>回阀</div><div class="a" style="left:37px;top:42px;width:323px;height:1px;background:#9a9a9a"></div><div class="a t2" style="left:386px;top:11px">WAFER CHECK VALVE<span style="margin-left:-2.5px">（</span><span style="margin-left:4.2px">UPVC</span>、CPVC<span style="margin-left:-1px">、</span>PPH<span style="margin-left:4px">）</span></div><div class="a" style="left:376px;top:42px;width:572px;height:1px;background:#9a9a9a"></div><div class="a" style="left:238px;top:557px;width:690px;height:20px;background:#cde3cc"></div><div class="a" style="left:238px;top:577px;width:690px;height:20px;background:#ffffff"></div><div class="a" style="left:238px;top:597px;width:690px;height:20px;background:#e6e6e7"></div><div class="a" style="left:238px;top:617px;width:690px;height:20px;background:#ffffff"></div><div class="a" style="left:238px;top:637px;width:690px;height:20px;background:#e6e6e7"></div><div class="a" style="left:238px;top:657px;width:690px;height:20px;background:#ffffff"></div><div class="a" style="left:238px;top:677px;width:690px;height:21px;background:#e6e6e7"></div><div class="a" style="left:238px;top:698px;width:690px;height:20px;background:#ffffff"></div><div class="a" style="left:238px;top:718px;width:690px;height:20px;background:#e6e6e7"></div><div class="a" style="left:238px;top:738px;width:690px;height:20px;background:#ffffff"></div><div class="a" style="left:238px;top:758px;width:690px;height:20px;background:#e6e6e7"></div><div class="a" style="left:238px;top:778px;width:690px;height:20px;background:#ffffff"></div><div class="c" style="left:239.20px;top:557.60px;width:140px;height:22px;line-height:22px;font-size:15.5px"><span class="k">序号</span></div><div class="c" style="left:377.20px;top:557.60px;width:140px;height:22px;line-height:22px;font-size:15.5px"><span class="k">名称</span></div><div class="c" style="left:515.20px;top:557.60px;width:140px;height:22px;line-height:22px;font-size:15.5px"><span class="k">材质</span></div><div class="c" style="left:653.20px;top:557.60px;width:140px;height:22px;line-height:22px;font-size:15.5px"><span class="k">数量</span></div><div class="c" style="left:791.20px;top:557.60px;width:140px;height:22px;line-height:22px;font-size:15.5px"><span class="k">单位</span></div><div class="c" style="left:239.20px;top:577.60px;width:140px;height:22px;line-height:22px;font-size:15.5px">1</div><div class="c" style="left:377.20px;top:577.60px;width:140px;height:22px;line-height:22px;font-size:15.5px"><span class="k">阀体</span></div><div class="c" style="left:515.20px;top:577.60px;width:140px;height:22px;line-height:22px;font-size:15.5px">UPVC/CPVC/PPH</div><div class="c" style="left:653.20px;top:577.60px;width:140px;height:22px;line-height:22px;font-size:15.5px">1</div><div class="c" style="left:791.20px;top:577.60px;width:140px;height:22px;line-height:22px;font-size:15.5px">PCS</div><div class="c" style="left:239.20px;top:597.60px;width:140px;height:22px;line-height:22px;font-size:15.5px">2</div><div class="c" style="left:377.20px;top:597.60px;width:140px;height:22px;line-height:22px;font-size:15.5px"><span class="k">阀瓣</span></div><div class="c" style="left:515.20px;top:597.60px;width:140px;height:22px;line-height:22px;font-size:15.5px">UPVC/CPVC/PPH</div><div class="c" style="left:653.20px;top:597.60px;width:140px;height:22px;line-height:22px;font-size:15.5px">1</div><div class="c" style="left:791.20px;top:597.60px;width:140px;height:22px;line-height:22px;font-size:15.5px">PCS</div><div class="c" style="left:239.20px;top:617.60px;width:140px;height:22px;line-height:22px;font-size:15.5px">3</div><div class="c" style="left:377.20px;top:617.60px;width:140px;height:22px;line-height:22px;font-size:15.5px"><span class="k">摇杆</span></div><div class="c" style="left:515.20px;top:617.60px;width:140px;height:22px;line-height:22px;font-size:15.5px">UPVC/CPVC/PPH</div><div class="c" style="left:653.20px;top:617.60px;width:140px;height:22px;line-height:22px;font-size:15.5px">1</div><div class="c" style="left:791.20px;top:617.60px;width:140px;height:22px;line-height:22px;font-size:15.5px">PCS</div><div class="c" style="left:239.20px;top:637.60px;width:140px;height:22px;line-height:22px;font-size:15.5px">4</div><div class="c" style="left:377.20px;top:637.60px;width:140px;height:22px;line-height:22px;font-size:15.5px"><span class="k">阀瓣</span>O–Ring</div><div class="c" style="left:515.20px;top:637.60px;width:140px;height:22px;line-height:22px;font-size:15.5px">EPDM/VITON</div><div class="c" style="left:653.20px;top:637.60px;width:140px;height:22px;line-height:22px;font-size:15.5px">1</div><div class="c" style="left:791.20px;top:637.60px;width:140px;height:22px;line-height:22px;font-size:15.5px">PCS</div><div class="c" style="left:239.20px;top:657.60px;width:140px;height:22px;line-height:22px;font-size:15.5px">5</div><div class="c" style="left:377.20px;top:657.60px;width:140px;height:22px;line-height:22px;font-size:15.5px"><span class="k">阀体</span>O–Ring</div><div class="c" style="left:515.20px;top:657.60px;width:140px;height:22px;line-height:22px;font-size:15.5px">EPDM/VITON</div><div class="c" style="left:653.20px;top:657.60px;width:140px;height:22px;line-height:22px;font-size:15.5px">2</div><div class="c" style="left:791.20px;top:657.60px;width:140px;height:22px;line-height:22px;font-size:15.5px">PCS</div><div class="c" style="left:239.20px;top:677.60px;width:140px;height:23px;line-height:23px;font-size:15.5px">6</div><div class="c" style="left:377.20px;top:677.60px;width:140px;height:23px;line-height:23px;font-size:15.5px"><span class="k">护盖</span></div><div class="c" style="left:515.20px;top:677.60px;width:140px;height:23px;line-height:23px;font-size:15.5px">UPVC/CPVC/PPH</div><div class="c" style="left:653.20px;top:677.60px;width:140px;height:23px;line-height:23px;font-size:15.5px">2</div><div class="c" style="left:791.20px;top:677.60px;width:140px;height:23px;line-height:23px;font-size:15.5px">PCS</div><div class="c" style="left:239.20px;top:698.60px;width:140px;height:22px;line-height:22px;font-size:15.5px">7</div><div class="c" style="left:377.20px;top:698.60px;width:140px;height:22px;line-height:22px;font-size:15.5px"><span class="k">吊环</span></div><div class="c" style="left:515.20px;top:698.60px;width:140px;height:22px;line-height:22px;font-size:15.5px">304</div><div class="c" style="left:653.20px;top:698.60px;width:140px;height:22px;line-height:22px;font-size:15.5px">1</div><div class="c" style="left:791.20px;top:698.60px;width:140px;height:22px;line-height:22px;font-size:15.5px">PCS</div><div class="c" style="left:239.20px;top:718.60px;width:140px;height:22px;line-height:22px;font-size:15.5px">8</div><div class="c" style="left:377.20px;top:718.60px;width:140px;height:22px;line-height:22px;font-size:15.5px"><span class="k">流体箭头</span></div><div class="c" style="left:515.20px;top:718.60px;width:140px;height:22px;line-height:22px;font-size:15.5px">UPVC/CPVC/PPH</div><div class="c" style="left:653.20px;top:718.60px;width:140px;height:22px;line-height:22px;font-size:15.5px">2</div><div class="c" style="left:791.20px;top:718.60px;width:140px;height:22px;line-height:22px;font-size:15.5px">PCS</div><div class="c" style="left:239.20px;top:738.60px;width:140px;height:22px;line-height:22px;font-size:15.5px">9</div><div class="c" style="left:377.20px;top:738.60px;width:140px;height:22px;line-height:22px;font-size:15.5px"><span class="k">法兰</span></div><div class="c" style="left:515.20px;top:738.60px;width:140px;height:22px;line-height:22px;font-size:15.5px">UPVC/CPVC/PPH</div><div class="c" style="left:653.20px;top:738.60px;width:140px;height:22px;line-height:22px;font-size:15.5px">2</div><div class="c" style="left:791.20px;top:738.60px;width:140px;height:22px;line-height:22px;font-size:15.5px">PCS</div><div class="c" style="left:239.20px;top:758.60px;width:140px;height:22px;line-height:22px;font-size:15.5px">10</div><div class="c" style="left:377.20px;top:758.60px;width:140px;height:22px;line-height:22px;font-size:15.5px"><span class="k">螺丝</span></div><div class="c" style="left:653.20px;top:758.60px;width:140px;height:22px;line-height:22px;font-size:15.5px">4–16</div><div class="c" style="left:791.20px;top:758.60px;width:140px;height:22px;line-height:22px;font-size:15.5px">PCS</div><div class="c" style="left:239.20px;top:778.60px;width:140px;height:22px;line-height:22px;font-size:15.5px">11</div><div class="c" style="left:377.20px;top:778.60px;width:140px;height:22px;line-height:22px;font-size:15.5px"><span class="k">管道</span></div><div class="c" style="left:515.20px;top:778.60px;width:140px;height:22px;line-height:22px;font-size:15.5px">UPVC/CPVC/PPH</div><div class="c" style="left:653.20px;top:778.60px;width:140px;height:22px;line-height:22px;font-size:15.5px">2</div><div class="c" style="left:791.20px;top:778.60px;width:140px;height:22px;line-height:22px;font-size:15.5px">PCS</div><div class="a" style="left:238px;top:557px;width:692px;height:2px;background:#787878"></div><div class="a" style="left:238px;top:577px;width:692px;height:2px;background:#7c7c7c"></div><div class="a" style="left:238px;top:597px;width:692px;height:2px;background:#7c7c7c"></div><div class="a" style="left:238px;top:617px;width:692px;height:2px;background:#7c7c7c"></div><div class="a" style="left:238px;top:637px;width:692px;height:2px;background:#7c7c7c"></div><div class="a" style="left:238px;top:657px;width:692px;height:2px;background:#7c7c7c"></div><div class="a" style="left:238px;top:677px;width:692px;height:2px;background:#7c7c7c"></div><div class="a" style="left:238px;top:698px;width:692px;height:2px;background:#7c7c7c"></div><div class="a" style="left:238px;top:718px;width:692px;height:2px;background:#7c7c7c"></div><div class="a" style="left:238px;top:738px;width:692px;height:2px;background:#7c7c7c"></div><div class="a" style="left:238px;top:758px;width:692px;height:2px;background:#7c7c7c"></div><div class="a" style="left:238px;top:778px;width:692px;height:2px;background:#7c7c7c"></div><div class="a" style="left:238px;top:798px;width:692px;height:2px;background:#787878"></div><div class="a" style="left:238px;top:557px;width:2px;height:243px;background:#787878"></div><div class="a" style="left:376px;top:557px;width:2px;height:243px;background:#7c7c7c"></div><div class="a" style="left:514px;top:557px;width:2px;height:243px;background:#7c7c7c"></div><div class="a" style="left:652px;top:557px;width:2px;height:243px;background:#7c7c7c"></div><div class="a" style="left:790px;top:557px;width:2px;height:243px;background:#7c7c7c"></div><div class="a" style="left:928px;top:557px;width:2px;height:243px;background:#787878"></div><div class="a" style="left:100px;top:838px;width:827px;height:29px;background:#cde3cc"></div><div class="a" style="left:100px;top:867px;width:827px;height:28px;background:#ffffff"></div><div class="a" style="left:100px;top:895px;width:827px;height:28px;background:#e6e6e7"></div><div class="a" style="left:100px;top:923px;width:827px;height:29px;background:#ffffff"></div><div class="a" style="left:100px;top:952px;width:827px;height:28px;background:#e6e6e7"></div><div class="a" style="left:100px;top:980px;width:827px;height:28px;background:#ffffff"></div><div class="a" style="left:100px;top:1008px;width:827px;height:29px;background:#e6e6e7"></div><div class="a" style="left:100px;top:1037px;width:827px;height:28px;background:#ffffff"></div><div class="a" style="left:100px;top:1065px;width:827px;height:28px;background:#e6e6e7"></div><div class="a" style="left:100px;top:1093px;width:827px;height:29px;background:#ffffff"></div><div class="a" style="left:100px;top:1122px;width:827px;height:28px;background:#e6e6e7"></div><div class="a" style="left:100px;top:1150px;width:827px;height:28px;background:#ffffff"></div><div class="c" style="left:97.20px;top:836.90px;width:140px;height:31px;line-height:31px;font-size:15.5px"><span class="k">规格</span> ( SIZE )</div><div class="c" style="left:239.20px;top:836.90px;width:140px;height:31px;line-height:31px;font-size:15.5px">L</div><div class="c" style="left:377.20px;top:836.90px;width:140px;height:31px;line-height:31px;font-size:15.5px">D</div><div class="c" style="left:515.20px;top:836.90px;width:140px;height:31px;line-height:31px;font-size:15.5px">Φ d1</div><div class="c" style="left:653.20px;top:836.90px;width:140px;height:31px;line-height:31px;font-size:15.5px">Φ d2</div><div class="c" style="left:791.20px;top:836.90px;width:139px;height:31px;line-height:31px;font-size:15.5px"><span style="font-size:13.6px">法兰安装螺丝n–M*L1</span></div><div class="c" style="left:97.20px;top:866.30px;width:140px;height:30px;line-height:30px;font-size:15.5px;color:#3a3a3a;font-size:16px">2"<span style="margin-left:2.5px"></span> ( DN50 )</div><div class="c" style="left:239.20px;top:866.30px;width:140px;height:30px;line-height:30px;font-size:15.5px">20</div><div class="c" style="left:377.20px;top:866.30px;width:140px;height:30px;line-height:30px;font-size:15.5px">108.5</div><div class="c" style="left:515.20px;top:866.30px;width:140px;height:30px;line-height:30px;font-size:15.5px">30.8</div><div class="c" style="left:653.20px;top:866.30px;width:140px;height:30px;line-height:30px;font-size:15.5px">63</div><div class="c" style="left:791.20px;top:866.30px;width:139px;height:30px;line-height:30px;font-size:15.5px">4–M16*90</div><div class="c" style="left:97.20px;top:894.30px;width:140px;height:30px;line-height:30px;font-size:15.5px;color:#3a3a3a;font-size:16px">2–1/2"<span style="margin-left:2.5px"></span> ( DN65 )</div><div class="c" style="left:239.20px;top:894.30px;width:140px;height:30px;line-height:30px;font-size:15.5px">20</div><div class="c" style="left:377.20px;top:894.30px;width:140px;height:30px;line-height:30px;font-size:15.5px">130</div><div class="c" style="left:515.20px;top:894.30px;width:140px;height:30px;line-height:30px;font-size:15.5px">38</div><div class="c" style="left:653.20px;top:894.30px;width:140px;height:30px;line-height:30px;font-size:15.5px">75</div><div class="c" style="left:791.20px;top:894.30px;width:139px;height:30px;line-height:30px;font-size:15.5px">4–M16*90</div><div class="c" style="left:97.20px;top:922.30px;width:140px;height:31px;line-height:31px;font-size:15.5px;color:#3a3a3a;font-size:16px">3"<span style="margin-left:2.5px"></span> ( DN80 )</div><div class="c" style="left:239.20px;top:922.30px;width:140px;height:31px;line-height:31px;font-size:15.5px">22</div><div class="c" style="left:377.20px;top:922.30px;width:140px;height:31px;line-height:31px;font-size:15.5px">145</div><div class="c" style="left:515.20px;top:922.30px;width:140px;height:31px;line-height:31px;font-size:15.5px">52.8</div><div class="c" style="left:653.20px;top:922.30px;width:140px;height:31px;line-height:31px;font-size:15.5px">90</div><div class="c" style="left:791.20px;top:922.30px;width:139px;height:31px;line-height:31px;font-size:15.5px">8–M16*100</div><div class="c" style="left:97.20px;top:951.30px;width:140px;height:30px;line-height:30px;font-size:15.5px;color:#3a3a3a;font-size:16px">4"<span style="margin-left:2.5px"></span> ( DN100 )</div><div class="c" style="left:239.20px;top:951.30px;width:140px;height:30px;line-height:30px;font-size:15.5px">24</div><div class="c" style="left:377.20px;top:951.30px;width:140px;height:30px;line-height:30px;font-size:15.5px">164</div><div class="c" style="left:515.20px;top:951.30px;width:140px;height:30px;line-height:30px;font-size:15.5px">70</div><div class="c" style="left:653.20px;top:951.30px;width:140px;height:30px;line-height:30px;font-size:15.5px">110</div><div class="c" style="left:791.20px;top:951.30px;width:139px;height:30px;line-height:30px;font-size:15.5px">8–M16*100</div><div class="c" style="left:97.20px;top:979.30px;width:140px;height:30px;line-height:30px;font-size:15.5px;color:#3a3a3a;font-size:16px">5"<span style="margin-left:2.5px"></span> ( DN125 )</div><div class="c" style="left:239.20px;top:979.30px;width:140px;height:30px;line-height:30px;font-size:15.5px">25</div><div class="c" style="left:377.20px;top:979.30px;width:140px;height:30px;line-height:30px;font-size:15.5px">193.8</div><div class="c" style="left:515.20px;top:979.30px;width:140px;height:30px;line-height:30px;font-size:15.5px">88</div><div class="c" style="left:653.20px;top:979.30px;width:140px;height:30px;line-height:30px;font-size:15.5px">140</div><div class="c" style="left:791.20px;top:979.30px;width:139px;height:30px;line-height:30px;font-size:15.5px">8–M16*140</div><div class="c" style="left:97.20px;top:1007.30px;width:140px;height:31px;line-height:31px;font-size:15.5px;color:#3a3a3a;font-size:16px">6"<span style="margin-left:2.5px"></span> ( DN150 )</div><div class="c" style="left:239.20px;top:1007.30px;width:140px;height:31px;line-height:31px;font-size:15.5px">27</div><div class="c" style="left:377.20px;top:1007.30px;width:140px;height:31px;line-height:31px;font-size:15.5px">219</div><div class="c" style="left:515.20px;top:1007.30px;width:140px;height:31px;line-height:31px;font-size:15.5px">110.6</div><div class="c" style="left:653.20px;top:1007.30px;width:140px;height:31px;line-height:31px;font-size:15.5px">160</div><div class="c" style="left:791.20px;top:1007.30px;width:139px;height:31px;line-height:31px;font-size:15.5px">8–M20*150</div><div class="c" style="left:97.20px;top:1036.30px;width:140px;height:30px;line-height:30px;font-size:15.5px;color:#3a3a3a;font-size:16px">8"<span style="margin-left:2.5px"></span> ( DN200 )</div><div class="c" style="left:239.20px;top:1036.30px;width:140px;height:30px;line-height:30px;font-size:15.5px">35</div><div class="c" style="left:377.20px;top:1036.30px;width:140px;height:30px;line-height:30px;font-size:15.5px">282</div><div class="c" style="left:515.20px;top:1036.30px;width:140px;height:30px;line-height:30px;font-size:15.5px">120</div><div class="c" style="left:653.20px;top:1036.30px;width:140px;height:30px;line-height:30px;font-size:15.5px">200/225</div><div class="c" style="left:791.20px;top:1036.30px;width:139px;height:30px;line-height:30px;font-size:15.5px">8–M20*170</div><div class="c" style="left:97.20px;top:1064.30px;width:140px;height:30px;line-height:30px;font-size:15.5px;color:#3a3a3a;font-size:16px">10"<span style="margin-left:2.5px"></span> ( DN250 )</div><div class="c" style="left:239.20px;top:1064.30px;width:140px;height:30px;line-height:30px;font-size:15.5px">40</div><div class="c" style="left:377.20px;top:1064.30px;width:140px;height:30px;line-height:30px;font-size:15.5px">327</div><div class="c" style="left:515.20px;top:1064.30px;width:140px;height:30px;line-height:30px;font-size:15.5px">155</div><div class="c" style="left:653.20px;top:1064.30px;width:140px;height:30px;line-height:30px;font-size:15.5px">250/280</div><div class="c" style="left:791.20px;top:1064.30px;width:139px;height:30px;line-height:30px;font-size:15.5px">12–M20*210</div><div class="c" style="left:97.20px;top:1092.30px;width:140px;height:31px;line-height:31px;font-size:15.5px;color:#3a3a3a;font-size:16px">12"<span style="margin-left:2.5px"></span> ( DN300 )</div><div class="c" style="left:239.20px;top:1092.30px;width:140px;height:31px;line-height:31px;font-size:15.5px">53</div><div class="c" style="left:377.20px;top:1092.30px;width:140px;height:31px;line-height:31px;font-size:15.5px">380</div><div class="c" style="left:515.20px;top:1092.30px;width:140px;height:31px;line-height:31px;font-size:15.5px">226</div><div class="c" style="left:653.20px;top:1092.30px;width:140px;height:31px;line-height:31px;font-size:15.5px">315</div><div class="c" style="left:791.20px;top:1092.30px;width:139px;height:31px;line-height:31px;font-size:15.5px">12–M20*210</div><div class="c" style="left:97.20px;top:1121.30px;width:140px;height:30px;line-height:30px;font-size:15.5px;color:#3a3a3a;font-size:16px">14"<span style="margin-left:2.5px"></span> ( DN350 )</div><div class="c" style="left:239.20px;top:1121.30px;width:140px;height:30px;line-height:30px;font-size:15.5px">72</div><div class="c" style="left:377.20px;top:1121.30px;width:140px;height:30px;line-height:30px;font-size:15.5px">432</div><div class="c" style="left:515.20px;top:1121.30px;width:140px;height:30px;line-height:30px;font-size:15.5px">225</div><div class="c" style="left:653.20px;top:1121.30px;width:140px;height:30px;line-height:30px;font-size:15.5px">355</div><div class="c" style="left:791.20px;top:1121.30px;width:139px;height:30px;line-height:30px;font-size:15.5px">16–M20*240</div><div class="c" style="left:97.20px;top:1149.30px;width:140px;height:30px;line-height:30px;font-size:15.5px;color:#3a3a3a;font-size:16px">16"<span style="margin-left:2.5px"></span> ( DN400 )</div><div class="c" style="left:239.20px;top:1149.30px;width:140px;height:30px;line-height:30px;font-size:15.5px">72</div><div class="c" style="left:377.20px;top:1149.30px;width:140px;height:30px;line-height:30px;font-size:15.5px">484</div><div class="c" style="left:515.20px;top:1149.30px;width:140px;height:30px;line-height:30px;font-size:15.5px">272</div><div class="c" style="left:653.20px;top:1149.30px;width:140px;height:30px;line-height:30px;font-size:15.5px">400</div><div class="c" style="left:791.20px;top:1149.30px;width:139px;height:30px;line-height:30px;font-size:15.5px">16–M22*240</div><div class="a" style="left:100px;top:838px;width:829px;height:2px;background:#787878"></div><div class="a" style="left:100px;top:867px;width:829px;height:2px;background:#7c7c7c"></div><div class="a" style="left:100px;top:895px;width:829px;height:2px;background:#7c7c7c"></div><div class="a" style="left:100px;top:923px;width:829px;height:2px;background:#7c7c7c"></div><div class="a" style="left:100px;top:952px;width:829px;height:2px;background:#7c7c7c"></div><div class="a" style="left:100px;top:980px;width:829px;height:2px;background:#7c7c7c"></div><div class="a" style="left:100px;top:1008px;width:829px;height:2px;background:#7c7c7c"></div><div class="a" style="left:100px;top:1037px;width:829px;height:2px;background:#7c7c7c"></div><div class="a" style="left:100px;top:1065px;width:829px;height:2px;background:#7c7c7c"></div><div class="a" style="left:100px;top:1093px;width:829px;height:2px;background:#7c7c7c"></div><div class="a" style="left:100px;top:1122px;width:829px;height:2px;background:#7c7c7c"></div><div class="a" style="left:100px;top:1150px;width:829px;height:2px;background:#7c7c7c"></div><div class="a" style="left:100px;top:1178px;width:829px;height:2px;background:#787878"></div><div class="a" style="left:100px;top:838px;width:2px;height:342px;background:#787878"></div><div class="a" style="left:238px;top:838px;width:2px;height:342px;background:#7c7c7c"></div><div class="a" style="left:376px;top:838px;width:2px;height:342px;background:#7c7c7c"></div><div class="a" style="left:514px;top:838px;width:2px;height:342px;background:#7c7c7c"></div><div class="a" style="left:652px;top:838px;width:2px;height:342px;background:#7c7c7c"></div><div class="a" style="left:790px;top:838px;width:2px;height:342px;background:#7c7c7c"></div><div class="a" style="left:927px;top:838px;width:2px;height:342px;background:#787878"></div>
</body></html>
